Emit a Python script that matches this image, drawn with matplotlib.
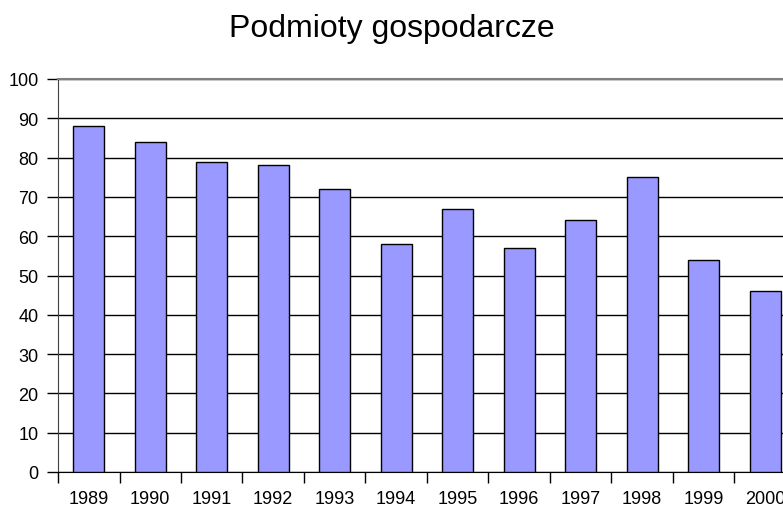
import numpy as np
import matplotlib.pyplot as plt
import matplotlib

matplotlib.rcParams['font.family'] = ['Liberation Sans', 'DejaVu Sans']
matplotlib.rcParams['font.size'] = 13

# dane
lata = ['1989', '1990', '1991', '1992', '1993', '1994',
        '1995', '1996', '1997', '1998', '1999', '2000']
wartosci = [88, 84, 79, 78, 72, 58, 67, 57, 64, 75, 54, 46]

fig = plt.figure(figsize=(7.83, 5.10), dpi=100)
# wykres wychodzi poza prawą krawędź, jak w oryginale
ax = fig.add_axes([58 / 783, 37 / 510, 738 / 783, 393 / 510])

x = np.arange(len(lata))
ax.bar(x, wartosci, width=0.5, color='#9999ff', edgecolor='black',
       linewidth=1, zorder=3)

ax.set_xlim(-0.5, len(lata) - 0.5)
ax.set_ylim(0, 100)
ax.set_yticks(np.arange(0, 101, 10))
ax.yaxis.grid(True, color='black', linewidth=1, zorder=0)
ax.set_axisbelow(True)

# ticki na granicach kategorii, etykiety na środku
ax.set_xticks(np.arange(-0.5, len(lata), 1))
ax.set_xticklabels([])
ax.set_xticks(x, minor=True)
ax.set_xticklabels(lata, minor=True)
ax.tick_params(axis='x', which='major', length=8, width=1, color='black', direction='out')
ax.tick_params(axis='x', which='minor', length=0, pad=13)
ax.tick_params(axis='y', length=8, width=1, color='black', pad=6)

ax.spines['top'].set_color('#808080')
ax.spines['top'].set_linewidth(1.5)
ax.spines['right'].set_visible(False)
ax.spines['left'].set_color('#404040')
ax.spines['bottom'].set_color('black')

fig.text(0.5, 1 - 29 / 510, 'Podmioty gospodarcze', ha='center', va='center', fontsize=23)

plt.savefig('out.png', dpi=100)
